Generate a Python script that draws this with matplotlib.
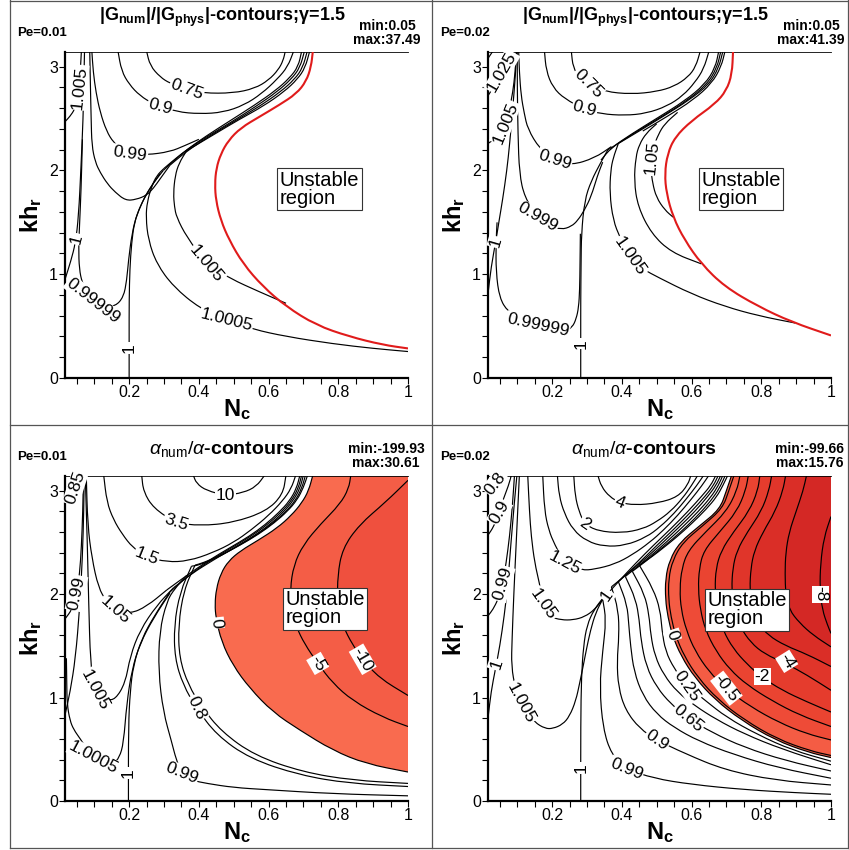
import numpy as np
import matplotlib
matplotlib.use("Agg")
import matplotlib.pyplot as plt
from matplotlib.lines import Line2D
from matplotlib.path import Path
from matplotlib.patches import PathPatch

plt.rcParams["font.family"] = ["Liberation Sans", "DejaVu Sans"]
plt.rcParams["mathtext.fontset"] = "custom"
plt.rcParams["mathtext.rm"] = "Liberation Sans"
plt.rcParams["mathtext.it"] = "Liberation Sans:italic"
plt.rcParams["mathtext.bf"] = "Liberation Sans:bold"

W, H = 849, 850
NC_MIN, NC_MAX = 0.016, 1.0
KH_MAX = np.pi

# ---------------------------------------------------------------------------
# contour lines as (N_c, kh_r) points
# ---------------------------------------------------------------------------

# panel 1: |G_num|/|G_phys|, Pe=0.01
g1_red = [(0.727, 3.15), (0.722, 3.0), (0.708, 2.86), (0.68, 2.74), (0.63, 2.63), (0.575, 2.52),
          (0.52, 2.41), (0.485, 2.29), (0.463, 2.16), (0.45, 2.02), (0.446, 1.87), (0.449, 1.71),
          (0.463, 1.52), (0.487, 1.33), (0.527, 1.10), (0.584, 0.88), (0.65, 0.69), (0.736, 0.51),
          (0.831, 0.40), (0.927, 0.32), (1.0, 0.285)]
g1_075 = [(0.250, 3.15), (0.260, 3.01), (0.289, 2.90), (0.317, 2.84), (0.365, 2.78), (0.412, 2.745),
          (0.498, 2.745), (0.56, 2.79), (0.60, 2.87), (0.628, 2.97), (0.642, 3.06), (0.648, 3.15)]
g1_09 = [(0.168, 3.15), (0.178, 2.96), (0.20, 2.83), (0.231, 2.72), (0.270, 2.64), (0.336, 2.565),
         (0.403, 2.545), (0.47, 2.56), (0.53, 2.63), (0.58, 2.74), (0.625, 2.88), (0.655, 3.0), (0.672, 3.15)]
g1_099 = [(0.093, 3.15), (0.097, 2.95), (0.105, 2.75), (0.117, 2.56), (0.135, 2.38), (0.155, 2.27),
          (0.18, 2.2), (0.203, 2.16), (0.25, 2.15), (0.317, 2.18), (0.36, 2.24), (0.40, 2.30)]
g1_0999 = [(0.087, 3.15), (0.089, 2.8), (0.091, 2.5), (0.093, 2.24), (0.103, 2.08), (0.117, 1.98),
           (0.138, 1.87), (0.16, 1.79), (0.19, 1.71), (0.22, 1.72), (0.25, 1.76), (0.27, 1.83),
           (0.289, 1.92), (0.317, 2.05)]
g1_1005a = [(0.016, 2.47), (0.03, 2.52), (0.044, 2.59), (0.051, 2.68), (0.056, 2.80), (0.06, 2.96), (0.063, 3.15)]
g1_1_left = [(0.016, 0.95), (0.033, 1.13), (0.046, 1.30), (0.055, 1.56), (0.062, 2.04), (0.068, 2.51),
             (0.070, 2.83), (0.072, 3.15)]
g1_099999 = [(0.066, 2.3), (0.062, 1.8), (0.058, 1.5), (0.055, 1.25), (0.057, 1.05), (0.065, 0.92),
             (0.08, 0.82), (0.10, 0.75), (0.13, 0.70), (0.16, 0.69), (0.184, 0.78), (0.193, 0.94),
             (0.198, 1.13), (0.208, 1.39), (0.222, 1.58), (0.25, 1.78), (0.289, 1.97)]
g1_1_right = [(0.20, 0.0), (0.20, 0.4), (0.20, 0.75), (0.202, 1.05), (0.207, 1.3), (0.215, 1.5),
              (0.231, 1.65), (0.26, 1.84), (0.298, 2.0)]
g1_10005 = [(0.30, 2.02), (0.279, 1.95), (0.265, 1.85), (0.252, 1.7), (0.248, 1.55), (0.255, 1.33),
            (0.279, 1.10), (0.327, 0.88), (0.403, 0.67), (0.479, 0.56), (0.555, 0.47), (0.65, 0.40),
            (0.784, 0.33), (0.9, 0.285), (1.0, 0.255)]
g1_1005b = [(0.365, 2.19), (0.343, 2.07), (0.332, 1.95), (0.327, 1.78), (0.33, 1.65), (0.336, 1.55),
            (0.365, 1.36), (0.422, 1.10), (0.489, 0.96), (0.574, 0.83), (0.65, 0.72)]
g1_bundle_a = [(0.298, 2.0), (0.33, 2.1), (0.365, 2.2), (0.42, 2.33), (0.49, 2.48), (0.56, 2.63),
               (0.62, 2.77), (0.66, 2.89), (0.685, 3.0), (0.695, 3.15)]
g1_bundle_b = [(0.30, 2.02), (0.335, 2.12), (0.37, 2.21), (0.425, 2.33), (0.495, 2.47), (0.565, 2.62),
               (0.625, 2.76), (0.665, 2.88), (0.69, 2.99), (0.703, 3.15)]
g1_bundle_c = [(0.317, 2.05), (0.345, 2.13), (0.38, 2.22), (0.435, 2.34), (0.505, 2.48), (0.575, 2.62),
               (0.635, 2.76), (0.675, 2.88), (0.698, 2.99), (0.711, 3.15)]
g1_bundle_d = [(0.365, 2.19), (0.395, 2.25), (0.45, 2.36), (0.515, 2.49), (0.585, 2.62), (0.645, 2.76),
               (0.683, 2.88), (0.705, 2.99), (0.718, 3.15)]
g1_labels = [("0.75", 0.365, 2.78, -20), ("0.9", 0.289, 2.615, -15), ("0.99", 0.203, 2.16, -8),
             ("1.005", 0.056, 2.80, 84), ("1", 0.049, 1.34, 76), ("0.99999", 0.097, 0.745, -38),
             ("1", 0.20, 0.29, 90), ("1.005", 0.422, 1.10, -50), ("1.0005", 0.479, 0.56, -14)]

# panel 2: |G_num|/|G_phys|, Pe=0.02
g2_red = [(0.719, 3.15), (0.716, 2.93), (0.70, 2.77), (0.667, 2.64), (0.60, 2.48), (0.552, 2.32),
          (0.531, 2.16), (0.523, 1.97), (0.528, 1.78), (0.547, 1.55), (0.580, 1.33), (0.628, 1.10),
          (0.695, 0.88), (0.791, 0.69), (0.887, 0.54), (1.0, 0.41)]
g2_075 = [(0.255, 3.15), (0.26, 2.99), (0.28, 2.89), (0.303, 2.83), (0.351, 2.76), (0.427, 2.735),
          (0.50, 2.76), (0.55, 2.81), (0.59, 2.9), (0.612, 3.0), (0.625, 3.15)]
g2_09 = [(0.178, 3.15), (0.183, 2.96), (0.202, 2.80), (0.236, 2.69), (0.293, 2.59), (0.341, 2.545),
         (0.408, 2.53), (0.47, 2.55), (0.53, 2.62), (0.575, 2.72), (0.61, 2.85), (0.635, 2.98), (0.65, 3.15)]
g2_099 = [(0.104, 3.15), (0.106, 2.95), (0.111, 2.72), (0.12, 2.55), (0.13, 2.40), (0.164, 2.21),
          (0.207, 2.10), (0.255, 2.05), (0.322, 2.12), (0.37, 2.23)]
g2_0999 = [(0.10, 3.15), (0.10, 2.8), (0.102, 2.35), (0.106, 1.97), (0.121, 1.74), (0.159, 1.55),
           (0.19, 1.47), (0.226, 1.43), (0.255, 1.46), (0.274, 1.52), (0.293, 1.62), (0.312, 1.75),
           (0.33, 1.95), (0.345, 2.08)]
g2_1_left = [(0.016, 0.81), (0.025, 1.07), (0.039, 1.33), (0.048, 1.52), (0.058, 1.72), (0.07, 2.0),
             (0.078, 2.25), (0.087, 2.6), (0.095, 2.93), (0.098, 3.15)]
g2_099999 = [(0.042, 1.5), (0.039, 1.31), (0.039, 1.02), (0.049, 0.77), (0.073, 0.64), (0.11, 0.56),
             (0.159, 0.51), (0.20, 0.47), (0.236, 0.445), (0.258, 0.49), (0.269, 0.57), (0.276, 0.68),
             (0.279, 0.85), (0.28, 1.1), (0.281, 1.39)]
g2_1_right = [(0.282, 0.0), (0.282, 0.4), (0.282, 0.75), (0.283, 1.1), (0.284, 1.39), (0.293, 1.71),
              (0.312, 1.90), (0.34, 2.08), (0.36, 2.2)]
g2_1005a = [(0.016, 2.26), (0.034, 2.30), (0.05, 2.36), (0.065, 2.46), (0.078, 2.6), (0.087, 2.75),
            (0.094, 2.95), (0.097, 3.15)]
g2_1025 = [(0.016, 2.72), (0.035, 2.82), (0.056, 2.95), (0.072, 3.07), (0.08, 3.15)]
g2_corner = [(0.016, 3.08), (0.022, 3.11), (0.03, 3.15)]
g2_1005b = [(0.39, 2.26), (0.375, 2.12), (0.368, 2.0), (0.365, 1.78), (0.375, 1.52), (0.395, 1.35),
            (0.422, 1.17), (0.46, 1.05), (0.504, 0.97), (0.60, 0.81), (0.695, 0.69), (0.791, 0.60),
            (0.897, 0.53)]
g2_101 = [(0.50, 2.45), (0.47, 2.36), (0.45, 2.25), (0.44, 2.13), (0.435, 1.90), (0.446, 1.65),
          (0.485, 1.39), (0.542, 1.21), (0.628, 1.10)]
g2_105 = [(0.56, 2.56), (0.523, 2.45), (0.505, 2.35), (0.49, 2.22), (0.485, 2.14), (0.484, 2.0),
          (0.488, 1.88), (0.499, 1.74), (0.523, 1.62), (0.547, 1.55)]
g2_bundle_a = [(0.34, 2.1), (0.37, 2.22), (0.427, 2.35), (0.504, 2.51), (0.58, 2.67), (0.638, 2.83),
               (0.668, 2.99), (0.678, 3.15)]
g2_bundle_b = [(0.36, 2.2), (0.385, 2.25), (0.435, 2.36), (0.51, 2.51), (0.586, 2.67), (0.644, 2.83),
               (0.673, 2.99), (0.684, 3.15)]
g2_bundle_c = [(0.39, 2.26), (0.445, 2.37), (0.518, 2.52), (0.594, 2.68), (0.65, 2.83), (0.678, 2.99),
               (0.69, 3.15)]
g2_bundle_d = [(0.46, 2.38), (0.53, 2.52), (0.605, 2.68), (0.658, 2.84), (0.685, 3.0), (0.696, 3.15)]
g2_labels = [("0.75", 0.303, 2.84, -45), ("0.9", 0.293, 2.59, -15), ("0.99", 0.207, 2.10, -18),
             ("0.999", 0.159, 1.55, -30), ("0.99999", 0.159, 0.51, -12), ("1", 0.282, 0.33, 90),
             ("1", 0.039, 1.31, 74), ("1.005", 0.066, 2.46, 68), ("1.025", 0.056, 2.95, 60),
             ("1.005", 0.422, 1.17, -55), ("1.05", 0.485, 2.12, 84)]

# panel 3: alpha_num/alpha, Pe=0.01
a1_zero = [(0.727, 3.15), (0.715, 3.0), (0.695, 2.88), (0.665, 2.76), (0.625, 2.64), (0.57, 2.52),
           (0.52, 2.42), (0.485, 2.32), (0.463, 2.2), (0.45, 2.05), (0.446, 1.9), (0.449, 1.77),
           (0.465, 1.54), (0.498, 1.31), (0.546, 1.09), (0.612, 0.86), (0.689, 0.686), (0.784, 0.49),
           (0.879, 0.36), (1.0, 0.28)]
a1_m5 = [(0.836, 3.15), (0.83, 3.02), (0.805, 2.87), (0.75, 2.68), (0.70, 2.48), (0.672, 2.28),
         (0.662, 2.05), (0.665, 1.85), (0.68, 1.68), (0.703, 1.52), (0.741, 1.33), (0.784, 1.14),
         (0.841, 0.97), (0.927, 0.81), (1.0, 0.72)]
a1_m10 = [(1.0, 3.10), (0.936, 2.89), (0.86, 2.67), (0.812, 2.44), (0.798, 2.18), (0.798, 1.93),
          (0.812, 1.70), (0.841, 1.51), (0.87, 1.37), (0.917, 1.19), (1.0, 1.02)]
a1_10 = [(0.384, 3.15), (0.393, 3.07), (0.422, 3.0), (0.477, 2.955), (0.527, 2.98), (0.565, 3.04), (0.589, 3.15)]
a1_35 = [(0.236, 3.15), (0.241, 2.99), (0.27, 2.83), (0.334, 2.69), (0.403, 2.66), (0.498, 2.69),
         (0.593, 2.80), (0.641, 2.96), (0.65, 3.15)]
a1_15 = [(0.127, 3.15), (0.136, 2.89), (0.155, 2.72), (0.18, 2.58), (0.21, 2.45), (0.25, 2.36),
         (0.308, 2.31), (0.37, 2.32), (0.44, 2.40), (0.50, 2.50), (0.55, 2.62), (0.60, 2.76),
         (0.64, 2.9), (0.665, 3.02), (0.678, 3.15)]
a1_105 = [(0.077, 3.15), (0.081, 2.67), (0.093, 2.35), (0.112, 2.06), (0.135, 1.93), (0.16, 1.85),
          (0.203, 1.81), (0.25, 1.88), (0.308, 2.04)]
a1_1005 = [(0.074, 3.15), (0.08, 2.5), (0.084, 1.91), (0.089, 1.33), (0.10, 1.10), (0.12, 1.0),
           (0.136, 0.98), (0.16, 0.98), (0.189, 1.14), (0.203, 1.40), (0.231, 1.65), (0.279, 1.89),
           (0.327, 2.06)]
a1_10005 = [(0.02, 1.38), (0.021, 1.15), (0.022, 0.94), (0.03, 0.78), (0.041, 0.69), (0.06, 0.6),
            (0.079, 0.50), (0.10, 0.42), (0.13, 0.37), (0.155, 0.36), (0.172, 0.42), (0.184, 0.56),
            (0.193, 0.94), (0.208, 1.27), (0.231, 1.52), (0.27, 1.77), (0.317, 2.01)]
a1_1_left = [(0.016, 0.83), (0.031, 1.06), (0.046, 1.38), (0.058, 1.86), (0.066, 2.35), (0.07, 2.83), (0.071, 3.15)]
a1_099_left = [(0.016, 1.76), (0.036, 1.85), (0.049, 1.99), (0.058, 2.2), (0.063, 2.45), (0.067, 2.8), (0.069, 3.15)]
a1_085 = [(0.016, 2.93), (0.03, 2.99), (0.045, 3.05), (0.058, 3.15)]
a1_1_right = [(0.198, 0.0), (0.198, 0.73), (0.203, 1.06), (0.212, 1.31), (0.236, 1.57), (0.274, 1.80), (0.317, 2.02)]
a1_099_right = [(0.365, 2.18), (0.33, 2.05), (0.308, 1.93), (0.287, 1.64), (0.284, 1.25), (0.298, 0.86),
                (0.322, 0.57), (0.335, 0.40), (0.35, 0.28), (0.38, 0.2), (0.422, 0.17), (0.50, 0.13),
                (0.593, 0.11), (0.784, 0.07), (1.0, 0.05)]
a1_08 = [(0.379, 2.27), (0.346, 2.02), (0.329, 1.70), (0.331, 1.38), (0.355, 1.12), (0.393, 0.90),
         (0.45, 0.64), (0.546, 0.41), (0.689, 0.25), (0.831, 0.17), (1.0, 0.14)]
a1_08b = [(0.389, 2.28), (0.357, 2.04), (0.341, 1.70), (0.344, 1.38), (0.37, 1.12), (0.408, 0.91),
          (0.465, 0.67), (0.56, 0.44), (0.698, 0.28), (0.841, 0.20), (1.0, 0.17)]
a1_bundle_a = [(0.308, 2.04), (0.365, 2.18), (0.43, 2.33), (0.49, 2.45), (0.545, 2.56), (0.59, 2.67),
               (0.63, 2.79), (0.66, 2.9), (0.68, 3.02), (0.69, 3.15)]
a1_bundle_b = [(0.317, 2.02), (0.37, 2.18), (0.435, 2.33), (0.495, 2.45), (0.55, 2.56), (0.596, 2.67),
               (0.636, 2.79), (0.665, 2.9), (0.685, 3.02), (0.695, 3.15)]
a1_bundle_c = [(0.327, 2.06), (0.38, 2.2), (0.442, 2.33), (0.502, 2.45), (0.557, 2.56), (0.603, 2.67),
               (0.642, 2.79), (0.67, 2.9), (0.69, 3.02), (0.70, 3.15)]
a1_bundle_d = [(0.379, 2.27), (0.40, 2.28), (0.452, 2.35), (0.51, 2.46), (0.565, 2.57), (0.61, 2.68),
               (0.648, 2.79), (0.676, 2.9), (0.695, 3.02), (0.706, 3.15)]
a1_bundle_e = [(0.389, 2.28), (0.41, 2.3), (0.46, 2.37), (0.517, 2.47), (0.572, 2.58), (0.617, 2.69),
               (0.654, 2.8), (0.682, 2.91), (0.70, 3.03), (0.712, 3.15)]
a1_labels = [("10", 0.477, 2.955, 0), ("3.5", 0.334, 2.69, -18), ("1.5", 0.25, 2.36, -22),
             ("1.05", 0.16, 1.85, -42), ("1.005", 0.103, 1.07, -62), ("1.0005", 0.098, 0.42, -28),
             ("1", 0.198, 0.27, 90), ("0.99", 0.049, 2.01, 78), ("0.85", 0.046, 3.03, 72),
             ("0.8", 0.393, 0.90, -65), ("0.99", 0.35, 0.27, -22), ("0", 0.449, 1.72, -84),
             ("-5", 0.741, 1.33, -60), ("-10", 0.87, 1.37, -60)]

# panel 4: alpha_num/alpha, Pe=0.02
a2_zero = [(0.715, 3.15), (0.70, 3.0), (0.681, 2.82), (0.623, 2.66), (0.566, 2.50), (0.537, 2.33),
           (0.525, 2.15), (0.525, 1.95), (0.532, 1.78), (0.545, 1.60), (0.57, 1.40), (0.61, 1.19),
           (0.667, 0.98), (0.743, 0.78), (0.839, 0.59), (0.935, 0.47), (1.0, 0.42)]
a2_zero_b = [(0.722, 3.15), (0.707, 3.0), (0.689, 2.83), (0.632, 2.66), (0.575, 2.50), (0.546, 2.33),
             (0.534, 2.15), (0.534, 1.95), (0.541, 1.78), (0.554, 1.60), (0.579, 1.40), (0.619, 1.19),
             (0.676, 0.98), (0.751, 0.785), (0.845, 0.60), (0.94, 0.485), (1.0, 0.44)]
a2_m05 = [(0.739, 3.15), (0.73, 3.0), (0.70, 2.8), (0.64, 2.6), (0.59, 2.42), (0.572, 2.25), (0.566, 2.05),
          (0.57, 1.85), (0.585, 1.65), (0.61, 1.45), (0.65, 1.25), (0.70, 1.08), (0.77, 0.91), (0.85, 0.76),
          (0.93, 0.65), (1.0, 0.59)]
a2_m1 = [(0.763, 3.15), (0.755, 3.0), (0.73, 2.8), (0.68, 2.6), (0.635, 2.42), (0.622, 2.25), (0.619, 2.05),
         (0.625, 1.85), (0.64, 1.65), (0.67, 1.45), (0.71, 1.27), (0.76, 1.12), (0.83, 0.97), (0.91, 0.83),
         (1.0, 0.72)]
a2_m2 = [(0.796, 3.15), (0.79, 3.0), (0.765, 2.8), (0.72, 2.6), (0.685, 2.42), (0.67, 2.25), (0.667, 2.05),
         (0.672, 1.85), (0.69, 1.65), (0.72, 1.47), (0.76, 1.32), (0.80, 1.2), (0.86, 1.07), (0.93, 0.96),
         (1.0, 0.86)]
a2_m4 = [(0.83, 3.15), (0.822, 3.0), (0.80, 2.8), (0.76, 2.6), (0.73, 2.42), (0.718, 2.25), (0.715, 2.05),
         (0.72, 1.85), (0.74, 1.68), (0.77, 1.53), (0.81, 1.42), (0.87, 1.33), (0.93, 1.22), (1.0, 1.07)]
a2_m6 = [(0.87, 3.15), (0.862, 3.0), (0.84, 2.8), (0.805, 2.6), (0.78, 2.42), (0.77, 2.25), (0.767, 2.05),
         (0.772, 1.88), (0.79, 1.72), (0.82, 1.6), (0.87, 1.5), (0.93, 1.42), (1.0, 1.30)]
a2_m7 = [(0.93, 3.15), (0.92, 3.0), (0.90, 2.8), (0.88, 2.6), (0.87, 2.4), (0.868, 2.2), (0.87, 2.0),
         (0.88, 1.85), (0.91, 1.72), (0.95, 1.6), (1.0, 1.49)]
a2_m8 = [(1.0, 2.75), (0.98, 2.55), (0.97, 2.3), (0.968, 2.05), (0.975, 1.85), (0.99, 1.7), (1.0, 1.62)]
a2_4 = [(0.331, 3.15), (0.341, 3.04), (0.365, 2.94), (0.394, 2.885), (0.437, 2.86), (0.504, 2.88),
        (0.561, 2.94), (0.59, 3.06), (0.598, 3.15)]
a2_2 = [(0.262, 3.15), (0.266, 2.95), (0.277, 2.8), (0.293, 2.68), (0.33, 2.61), (0.40, 2.59),
        (0.46, 2.63), (0.50, 2.70), (0.54, 2.80), (0.575, 2.93), (0.60, 3.05), (0.618, 3.15)]
a2_15 = [(0.215, 3.15), (0.22, 2.95), (0.235, 2.78), (0.26, 2.62), (0.30, 2.51), (0.35, 2.46),
         (0.41, 2.47), (0.47, 2.55), (0.51, 2.65), (0.55, 2.78), (0.585, 2.92), (0.615, 3.05), (0.635, 3.15)]
a2_125 = [(0.173, 3.15), (0.178, 2.81), (0.19, 2.62), (0.207, 2.48), (0.236, 2.30), (0.284, 2.23),
          (0.322, 2.24), (0.38, 2.29), (0.43, 2.38), (0.48, 2.5), (0.52, 2.62), (0.56, 2.76),
          (0.60, 2.92), (0.63, 3.05), (0.65, 3.15)]
a2_105 = [(0.13, 3.15), (0.135, 2.8), (0.14, 2.56), (0.15, 2.3), (0.164, 2.10), (0.173, 1.92),
          (0.195, 1.78), (0.226, 1.75), (0.26, 1.75), (0.293, 1.78), (0.322, 1.85), (0.345, 1.95)]
a2_1005 = [(0.106, 3.15), (0.097, 2.5), (0.09, 2.0), (0.085, 1.56), (0.083, 1.30), (0.095, 1.08),
           (0.116, 0.90), (0.15, 0.76), (0.18, 0.70), (0.202, 0.70), (0.23, 0.74), (0.25, 0.82),
           (0.268, 0.97), (0.279, 1.14), (0.29, 1.32), (0.298, 1.46), (0.31, 1.65), (0.325, 1.82), (0.345, 1.95)]
a2_1_left = [(0.016, 0.80), (0.025, 1.06), (0.037, 1.27), (0.05, 1.5), (0.063, 1.8), (0.072, 2.07),
             (0.082, 2.5), (0.092, 2.9), (0.099, 3.15)]
a2_099_left = [(0.016, 1.79), (0.03, 1.85), (0.045, 1.95), (0.058, 2.1), (0.068, 2.3), (0.078, 2.56),
               (0.086, 2.85), (0.092, 3.15)]
a2_09_left = [(0.016, 2.57), (0.032, 2.65), (0.045, 2.76), (0.06, 2.92), (0.075, 3.05), (0.083, 3.15)]
a2_08_left = [(0.016, 2.97), (0.03, 3.04), (0.045, 3.1), (0.055, 3.15)]
a2_1_right = [(0.282, 0.0), (0.282, 0.75), (0.284, 1.2), (0.29, 1.5), (0.30, 1.7), (0.32, 1.85), (0.35, 1.98)]
a2_099_right = [(0.345, 1.95), (0.355, 1.75), (0.345, 1.45), (0.336, 1.1), (0.346, 0.70), (0.37, 0.45),
                (0.413, 0.31), (0.49, 0.22), (0.60, 0.16), (0.75, 0.11), (0.90, 0.08), (1.0, 0.065)]
a2_09_right = [(0.37, 2.07), (0.39, 1.85), (0.392, 1.6), (0.386, 1.35), (0.39, 1.1), (0.41, 0.88),
               (0.451, 0.70), (0.50, 0.59), (0.58, 0.46), (0.695, 0.30), (0.84, 0.20), (1.0, 0.155)]
a2_08_right = [(0.39, 2.12), (0.415, 1.9), (0.42, 1.7), (0.425, 1.5), (0.435, 1.25), (0.46, 1.02),
               (0.50, 0.84), (0.55, 0.71), (0.62, 0.58), (0.72, 0.45), (0.85, 0.32), (1.0, 0.22)]
a2_065 = [(0.41, 2.17), (0.44, 1.95), (0.45, 1.75), (0.455, 1.55), (0.47, 1.3), (0.50, 1.1), (0.54, 0.94),
          (0.59, 0.80), (0.66, 0.66), (0.75, 0.52), (0.87, 0.39), (1.0, 0.29)]
a2_045 = [(0.43, 2.22), (0.465, 2.0), (0.478, 1.8), (0.483, 1.6), (0.495, 1.4), (0.52, 1.22), (0.56, 1.05),
          (0.61, 0.92), (0.67, 0.79), (0.75, 0.65), (0.86, 0.50), (1.0, 0.35)]
a2_025 = [(0.45, 2.28), (0.49, 2.05), (0.51, 1.85), (0.515, 1.65), (0.525, 1.45), (0.55, 1.28),
          (0.585, 1.12), (0.64, 0.97), (0.70, 0.81), (0.79, 0.64), (0.89, 0.49), (1.0, 0.385)]
a2_bundle_a = [(0.345, 1.95), (0.39, 2.12), (0.44, 2.30), (0.49, 2.47), (0.54, 2.63), (0.59, 2.80),
               (0.63, 2.95), (0.655, 3.05), (0.67, 3.15)]
a2_bundle_b = [(0.37, 2.07), (0.41, 2.18), (0.455, 2.32), (0.50, 2.47), (0.55, 2.63), (0.60, 2.80),
               (0.64, 2.95), (0.663, 3.05), (0.677, 3.15)]
a2_bundle_c = [(0.39, 2.12), (0.43, 2.24), (0.47, 2.35), (0.515, 2.49), (0.562, 2.64), (0.61, 2.80),
               (0.648, 2.95), (0.67, 3.05), (0.684, 3.15)]
a2_bundle_d = [(0.41, 2.17), (0.45, 2.28), (0.49, 2.39), (0.53, 2.51), (0.575, 2.65), (0.62, 2.80),
               (0.656, 2.94), (0.677, 3.05), (0.69, 3.15)]
a2_bundle_e = [(0.43, 2.22), (0.47, 2.32), (0.505, 2.42), (0.545, 2.53), (0.588, 2.66), (0.632, 2.81),
               (0.664, 2.94), (0.684, 3.05), (0.697, 3.15)]
a2_bundle_f = [(0.45, 2.28), (0.49, 2.37), (0.52, 2.45), (0.557, 2.55), (0.60, 2.68), (0.642, 2.82),
               (0.672, 2.94), (0.69, 3.05), (0.704, 3.15)]
a2_labels = [("4", 0.394, 2.885, -22), ("2", 0.293, 2.68, -35), ("1.25", 0.236, 2.30, -28),
             ("1.05", 0.175, 1.90, -55), ("1.005", 0.11, 0.95, -62), ("1", 0.04, 1.32, 72),
             ("0.99", 0.058, 2.10, 74), ("0.9", 0.049, 2.79, 60), ("0.8", 0.037, 3.07, 52),
             ("1", 0.356, 1.99, 55), ("1", 0.282, 0.32, 90), ("0.25", 0.585, 1.11, -55),
             ("0.65", 0.59, 0.80, -40), ("0.9", 0.50, 0.585, -35), ("0.99", 0.413, 0.31, -22),
             ("0", 0.545, 1.60, -72), ("-0.5", 0.70, 1.09, -52), ("-2", 0.803, 1.20, 0),
             ("-4", 0.873, 1.35, -58), ("-8", 0.97, 2.0, -90)]

# flood bands (outermost first)
a1_bands = [a1_zero, a1_m5, a1_m10]
a1_band_colors = ["#F96B4F", "#F45D46", "#EF503E"]
a2_bands = [a2_zero, a2_m05, a2_m1, a2_m2, a2_m4, a2_m6, a2_m7, a2_m8]
a2_band_colors = ["#F45C44", "#EE4B37", "#EA4431", "#E53C2D", "#E0352A", "#DA2E27", "#D42825", "#CD2124"]

# header texts
pe_values = ["Pe=0.01", "Pe=0.02", "Pe=0.01", "Pe=0.02"]
min_values = ["min:0.05", "min:0.05", "min:-199.93", "min:-99.66"]
max_values = ["max:37.49", "max:41.39", "max:30.61", "max:15.76"]
title_g = r"$\mathbf{|G_{num}|/|G_{phys}|}$-contours;γ=1.5"
title_a = r"$\alpha_{\rm num}/\alpha$-contours"

# ---------------------------------------------------------------------------

fig = plt.figure(figsize=(W / 100, H / 100), dpi=100)
fig.patch.set_facecolor("white")


def px_rect(l, t, r, b):
    return [l / W, 1 - b / H, (r - l) / W, (b - t) / H]


def setup_axes(rect):
    ax = fig.add_axes(px_rect(*rect))
    ax.set_xlim(NC_MIN, NC_MAX)
    ax.set_ylim(0, KH_MAX)
    ax.set_xticks([0.2, 0.4, 0.6, 0.8, 1.0])
    ax.set_xticklabels(["0.2", "0.4", "0.6", "0.8", "1"])
    ax.set_xticks(np.arange(0.05, 1.001, 0.05), minor=True)
    ax.set_yticks([0, 1, 2, 3])
    ax.set_yticks(np.arange(0.2, 3.15, 0.2), minor=True)
    ax.tick_params(which="both", direction="out", length=4, width=0.8, labelsize=11.5, pad=1)
    ax.spines["right"].set_visible(False)
    ax.spines["top"].set_linewidth(0.6)
    ax.spines["left"].set_linewidth(1.6)
    ax.spines["bottom"].set_linewidth(1.6)
    ax.set_xlabel(r"$\mathbf{N_c}$", fontsize=17, labelpad=-2)
    ax.set_ylabel(r"$\mathbf{kh_r}$", fontsize=17, labelpad=4)
    return ax


def smooth_path(pts, corner=None):
    # quadratic bezier through midpoints, keeps the end points of the traced line
    verts = [pts[0]]
    codes = [Path.MOVETO]
    if len(pts) > 2:
        mids = [((a[0] + b[0]) / 2, (a[1] + b[1]) / 2) for a, b in zip(pts[:-1], pts[1:])]
        verts.append(mids[0])
        codes.append(Path.LINETO)
        for p, m in zip(pts[1:-1], mids[1:]):
            verts += [p, m]
            codes += [Path.CURVE3, Path.CURVE3]
    verts.append(pts[-1])
    codes.append(Path.LINETO)
    if corner is not None:
        verts += [corner, pts[0]]
        codes += [Path.LINETO, Path.CLOSEPOLY]
    return Path(verts, codes)


def draw_lines(ax, lines, color="black", lw=0.85, z=3):
    for pts in lines:
        ax.add_patch(PathPatch(smooth_path(pts), fill=False, ec=color, lw=lw, zorder=z,
                               joinstyle="round", capstyle="butt"))


def draw_labels(ax, labels):
    for txt, x, y, rot in labels:
        ax.text(x, y, txt, rotation=rot, rotation_mode="anchor", ha="center", va="center",
                fontsize=12.5, zorder=5,
                bbox=dict(boxstyle="square,pad=0.05", fc="white", ec="none"))


def draw_bands(ax, bands, colors):
    for pts, c in zip(bands, colors):
        ax.add_patch(PathPatch(smooth_path(pts, corner=(NC_MAX, KH_MAX)), fc=c, ec="none", lw=0, zorder=1))


def unstable_box(ax, x, y):
    ax.text(x, y, "Unstable\nregion", ha="left", va="center", fontsize=14.5, linespacing=0.95, zorder=6,
            bbox=dict(boxstyle="square,pad=0.12", fc="white", ec="#333333", lw=0.8))


rects = [(65, 52, 408, 378), (488, 52, 831, 378), (65, 476, 408, 801), (488, 476, 831, 801)]
axes = [setup_axes(r) for r in rects]

# panel 1
ax = axes[0]
draw_lines(ax, [g1_075, g1_09, g1_099, g1_0999, g1_1005a, g1_1_left, g1_099999, g1_1_right,
                g1_10005, g1_1005b, g1_bundle_a, g1_bundle_b, g1_bundle_c, g1_bundle_d])
draw_lines(ax, [g1_red], color="#E01B1B", lw=1.5, z=4)
draw_labels(ax, g1_labels)
unstable_box(ax, 0.632, 1.82)

# panel 2
ax = axes[1]
draw_lines(ax, [g2_075, g2_09, g2_099, g2_0999, g2_1_left, g2_099999, g2_1_right, g2_1005a, g2_1025,
                g2_corner, g2_1005b, g2_101, g2_105, g2_bundle_a, g2_bundle_b, g2_bundle_c, g2_bundle_d])
draw_lines(ax, [g2_red], color="#E01B1B", lw=1.5, z=4)
draw_labels(ax, g2_labels)
unstable_box(ax, 0.628, 1.82)

# panel 3
ax = axes[2]
draw_bands(ax, a1_bands, a1_band_colors)
draw_lines(ax, [a1_zero, a1_m5, a1_m10, a1_10, a1_35, a1_15, a1_105, a1_1005, a1_10005, a1_1_left,
                a1_099_left, a1_085, a1_1_right, a1_099_right, a1_08, a1_08b, a1_bundle_a, a1_bundle_b,
                a1_bundle_c, a1_bundle_d, a1_bundle_e])
draw_labels(ax, a1_labels)
unstable_box(ax, 0.648, 1.86)

# panel 4
ax = axes[3]
draw_bands(ax, a2_bands, a2_band_colors)
draw_lines(ax, [a2_zero, a2_zero_b, a2_m05, a2_m1, a2_m2, a2_m4, a2_m6, a2_m7, a2_m8, a2_4, a2_2, a2_15,
                a2_125, a2_105, a2_1005, a2_1_left, a2_099_left, a2_09_left, a2_08_left, a2_1_right,
                a2_099_right, a2_09_right, a2_08_right, a2_065, a2_045, a2_025, a2_bundle_a, a2_bundle_b,
                a2_bundle_c, a2_bundle_d, a2_bundle_e, a2_bundle_f])
draw_labels(ax, a2_labels)
unstable_box(ax, 0.645, 1.85)

# headers (pixel positions: title x, title baseline y, Pe x, Pe y, min/max x, min y, max y)
header_px = [(222, 21, 17, 33, 387, 26, 40), (645, 21, 440, 33, 811, 26, 40),
             (222, 454, 17, 457, 386, 449, 463), (644, 454, 440, 457, 810, 449, 463)]
titles = [title_g, title_g, title_a, title_a]
title_sizes = [13, 13, 14, 14]
for i, (tx, ty, px, py, mx, my, my2) in enumerate(header_px):
    fig.text(tx / W, 1 - ty / H, titles[i], ha="center", va="baseline", fontsize=title_sizes[i],
             fontweight="bold")
    fig.text(px / W, 1 - py / H, pe_values[i], ha="left", va="center", fontsize=9.5, fontweight="bold")
    fig.text(mx / W, 1 - my / H, min_values[i], ha="center", va="center", fontsize=10, fontweight="bold")
    fig.text(mx / W, 1 - my2 / H, max_values[i], ha="center", va="center", fontsize=10, fontweight="bold")

# panel frames
for x in (10, 432, 848):
    fig.add_artist(Line2D([x / W, x / W], [1 - 848 / H, 1.0], color="#555555", lw=0.9))
for y in (1, 425, 848):
    fig.add_artist(Line2D([10 / W, 848 / W], [1 - y / H, 1 - y / H], color="#555555", lw=0.9))

fig.savefig("out.png", dpi=100)
